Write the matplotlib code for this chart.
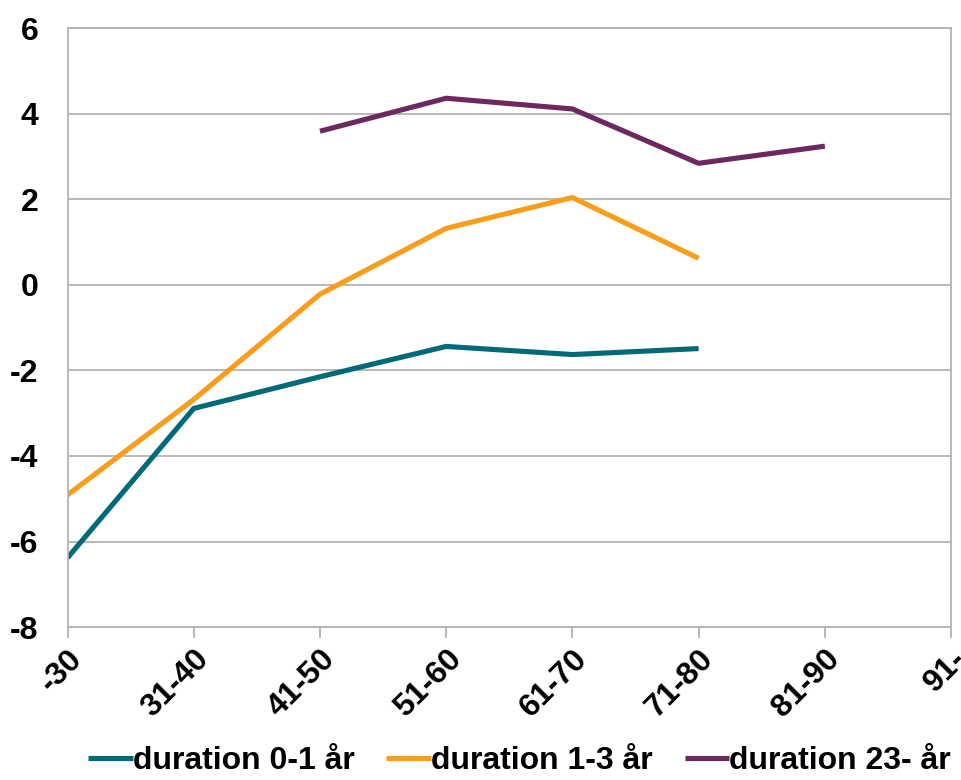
import matplotlib.pyplot as plt
import numpy as np

plt.rcParams['font.family'] = ['Liberation Sans', 'DejaVu Sans']
plt.rcParams['axes.unicode_minus'] = False

categories = ["-30", "31-40", "41-50", "51-60", "61-70", "71-80", "81-90", "91-"]
nan = np.nan
dur_0_1 = [-6.38, -2.89, -2.15, -1.44, -1.63, -1.49, nan, nan]
dur_1_3 = [-4.91, -2.68, -0.22, 1.32, 2.04, 0.62, nan, nan]
dur_23 = [nan, nan, 3.59, 4.36, 4.11, 2.84, 3.24, nan]
labels = ["duration 0-1 år", "duration 1-3 år", "duration 23- år"]
colors = ["#006a78", "#f99d1c", "#6b2960"]

fig = plt.figure(figsize=(9.62, 7.8), dpi=100)
ax = fig.add_axes([0.0702, 0.196, 0.9184, 0.768])

x = np.arange(len(categories))
for vals, lab, c in zip([dur_0_1, dur_1_3, dur_23], labels, colors):
    ax.plot(x, vals, color=c, lw=3.7, label=lab, solid_capstyle='butt')

ax.set_xlim(0, len(categories) - 1)
ax.set_ylim(-8, 6)
ax.set_yticks(np.arange(-8, 7, 2))
ax.set_xticks(x)
ax.set_xticklabels(categories, rotation=45, ha='right', va='top',
                   rotation_mode='anchor', fontsize=23, fontweight='bold')
for t in ax.get_yticklabels():
    t.set_fontsize(23)
    t.set_fontweight('bold')

ax.grid(axis='y', color='#b3b3b3', lw=1.3)
ax.set_axisbelow(True)
for s in ax.spines.values():
    s.set_color('#b3b3b3')
    s.set_linewidth(1.3)
ax.tick_params(axis='y', length=0, pad=21)
ax.tick_params(axis='x', length=8, color='#b3b3b3', width=1.3, pad=4)

ax.legend(loc='center', bbox_to_anchor=(0.54, 0.024), bbox_transform=fig.transFigure,
          ncol=3, frameon=False, prop={'size': 23, 'weight': 'bold'},
          handlelength=1.4, handletextpad=0.0, columnspacing=1.0,
          borderpad=0, borderaxespad=0)

fig.savefig("out.png", dpi=100)
